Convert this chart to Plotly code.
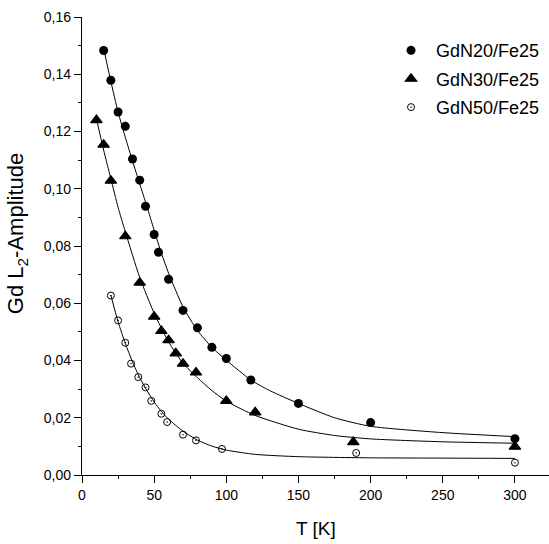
import plotly.graph_objects as go

# ---- data ----
t_20 = [15, 20, 25, 30, 35, 40, 44, 50, 53, 60, 70, 80, 90, 100, 117, 150, 200, 300]
a_20 = [0.1483, 0.1379, 0.1268, 0.1218, 0.1104, 0.1030, 0.0939, 0.0840, 0.0778,
        0.0684, 0.0575, 0.0514, 0.0446, 0.0407, 0.0332, 0.0250, 0.0183, 0.0127]

t_30 = [10, 15, 20, 30, 40, 50, 55, 60, 65, 70, 79, 100, 120, 188, 300]
a_30 = [0.1240, 0.1154, 0.1028, 0.0834, 0.0672, 0.0553, 0.0503, 0.0471, 0.0425,
        0.0389, 0.0358, 0.0259, 0.0219, 0.0115, 0.0099]

t_50 = [20, 25, 30, 34, 39, 44, 48, 55, 59, 70, 79, 97, 190, 300]
a_50 = [0.0627, 0.0540, 0.0462, 0.0389, 0.0342, 0.0306, 0.0259, 0.0214, 0.0185,
        0.0141, 0.0121, 0.0091, 0.0077, 0.0043]

# fitted curves, sampled from the reference line
fit_t_20 = [15, 20, 25, 30, 35, 40, 45, 50, 55, 60, 70, 80, 90, 100, 117, 130, 150, 175, 200, 250, 300]
fit_a_20 = [0.1490, 0.1375, 0.1268, 0.1180, 0.1097, 0.1017, 0.0938, 0.0855, 0.0775, 0.0705,
            0.0587, 0.0505, 0.0446, 0.0401, 0.0332, 0.0295, 0.0250, 0.0200, 0.0170, 0.0148, 0.0134]

fit_t_30 = [10, 15, 20, 25, 30, 40, 50, 60, 70, 80, 90, 100, 120, 150, 175, 200, 250, 300]
fit_a_30 = [0.1245, 0.1135, 0.1035, 0.0935, 0.0850, 0.0690, 0.0565, 0.0465, 0.0390, 0.0340,
            0.0295, 0.0258, 0.0208, 0.0160, 0.0138, 0.0126, 0.0116, 0.0111]

fit_t_50 = [20, 25, 30, 35, 40, 45, 50, 55, 60, 70, 80, 90, 100, 120, 150, 200, 250, 300]
fit_a_50 = [0.0628, 0.0535, 0.0460, 0.0395, 0.0340, 0.0295, 0.0255, 0.0222, 0.0195, 0.0153,
            0.0122, 0.0101, 0.0087, 0.0072, 0.0064, 0.0060, 0.0059, 0.0058]

names = ["GdN20/Fe25", "GdN30/Fe25", "GdN50/Fe25"]

x_title = "T [K]"
y_title = "Gd L<sub>2</sub>-Amplitude"

FONT = "Liberation Sans, Arial, sans-serif"

fig = go.Figure()

line_style = dict(color="black", width=1, shape="spline", smoothing=0.6)
for ft, fa in [(fit_t_20, fit_a_20), (fit_t_30, fit_a_30), (fit_t_50, fit_a_50)]:
    fig.add_trace(go.Scatter(x=ft, y=fa, mode="lines", line=line_style,
                             showlegend=False, hoverinfo="skip"))

fig.add_trace(go.Scatter(x=t_20, y=a_20, mode="markers", name=names[0], legendgroup="g1",
                         marker=dict(symbol="circle", size=9, color="black")))
fig.add_trace(go.Scatter(x=t_30, y=a_30, mode="markers", name=names[1], legendgroup="g2",
                         marker=dict(symbol="triangle-up", size=10, color="black",
                                     line=dict(color="black", width=1.2))))
fig.add_trace(go.Scatter(x=t_50, y=a_50, mode="markers", name=names[2], legendgroup="g3",
                         marker=dict(symbol="circle-open-dot", size=7, color="black",
                                     line=dict(color="black", width=1))))

axis_common = dict(
    showline=True, linecolor="black", linewidth=1.3,
    showgrid=False, zeroline=False, mirror=False, automargin=False,
    ticks="outside", ticklen=7, tickwidth=1.2, tickcolor="black",
    tickfont=dict(family=FONT, size=14, color="black"),
)

fig.update_xaxes(range=[0, 323.6], tickmode="linear", tick0=0, dtick=50,
                 minor=dict(ticks="outside", ticklen=3, tickwidth=1.2, tickcolor="black",
                            tick0=0, dtick=25),
                 **axis_common)
fig.update_yaxes(range=[0, 0.16], tickmode="linear", tick0=0, dtick=0.02,
                 tickformat=".2f",
                 minor=dict(ticks="outside", ticklen=3, tickwidth=1.2, tickcolor="black",
                            tick0=0, dtick=0.01),
                 **axis_common)

fig.update_layout(
    width=549, height=544,
    margin=dict(l=82, r=0, t=17, b=69, autoexpand=False),
    paper_bgcolor="white", plot_bgcolor="white",
    separators=", ",
    showlegend=True,
    legend=dict(x=0.651, y=0.967, xanchor="left", yanchor="top",
                bgcolor="rgba(0,0,0,0)", borderwidth=0,
                font=dict(family=FONT, size=18, color="black"),
                itemwidth=40, tracegroupgap=2),
    annotations=[
        dict(text=x_title, xref="paper", yref="paper", x=0.501, y=-0.116,
             xanchor="center", yanchor="middle", showarrow=False,
             font=dict(family=FONT, size=19, color="black")),
        dict(text=y_title, xref="paper", yref="paper", x=-0.139, y=0.526,
             xanchor="center", yanchor="middle", showarrow=False, textangle=-90,
             font=dict(family=FONT, size=22, color="black")),
    ],
)

fig.write_html("out.html",
               config={"displayModeBar": False},
               post_script="document.body.style.margin='0';document.body.style.overflow='hidden';")
